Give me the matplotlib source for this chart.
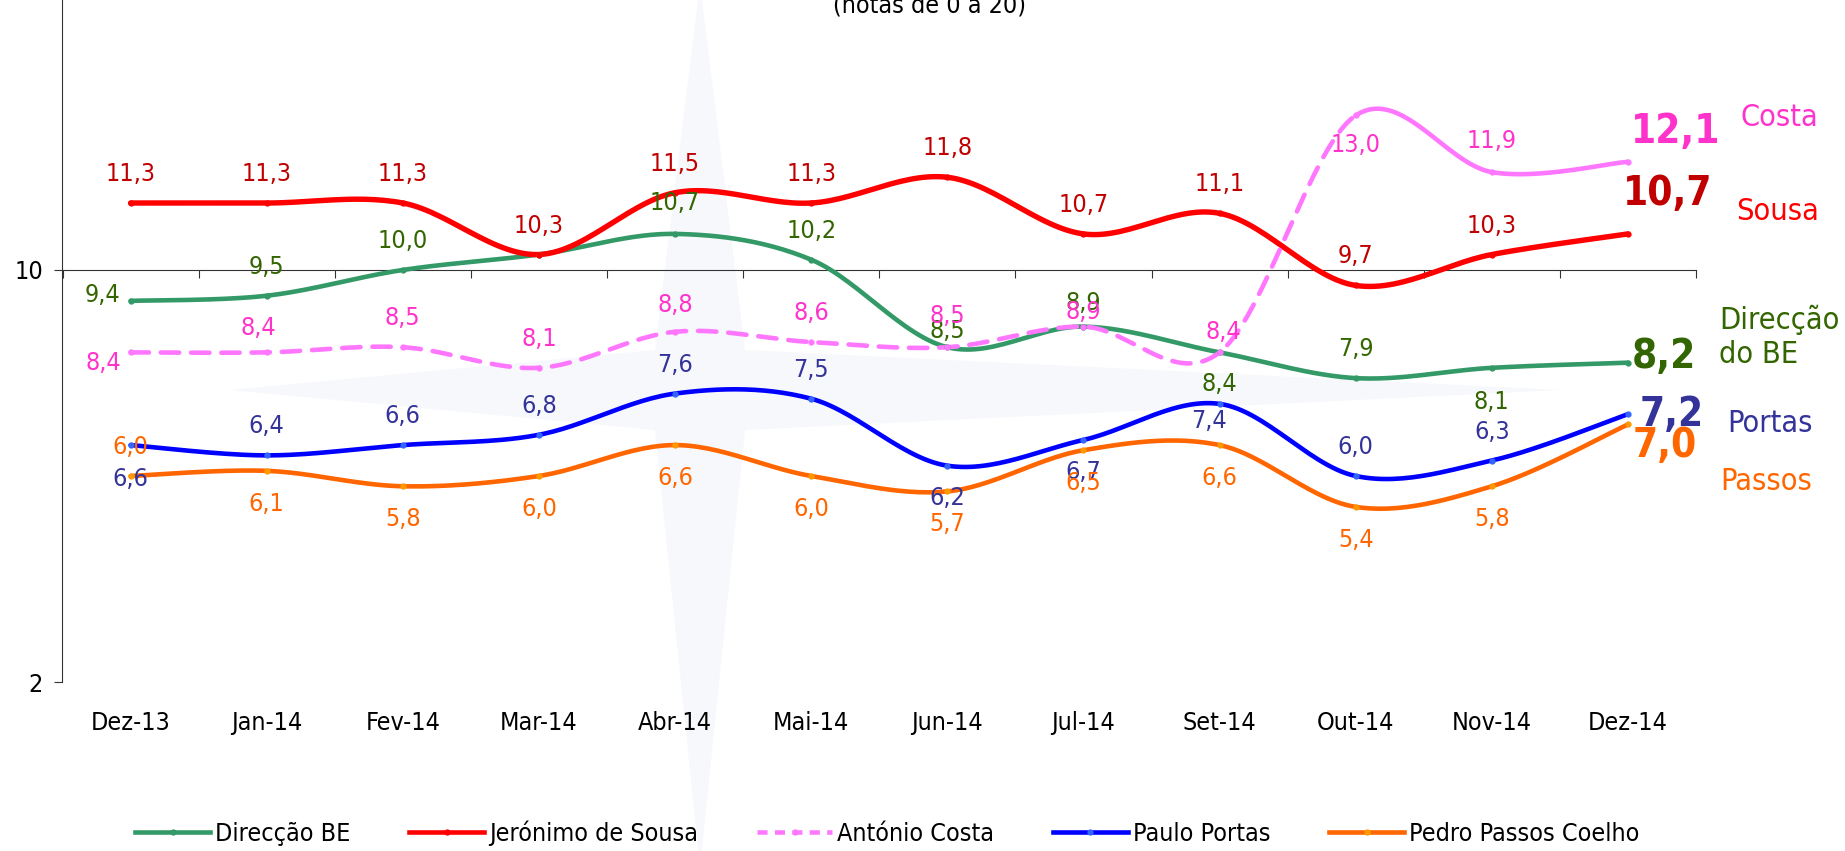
import numpy as np
import matplotlib
matplotlib.use("Agg")
import matplotlib.pyplot as plt
from matplotlib.patches import Polygon
from matplotlib.lines import Line2D

plt.rcParams['font.family'] = ['DejaVu Sans']
plt.rcParams['font.stretch'] = 'condensed'

# dados (notas de 0 a 20)
meses = ["Dez-13", "Jan-14", "Fev-14", "Mar-14", "Abr-14", "Mai-14",
         "Jun-14", "Jul-14", "Set-14", "Out-14", "Nov-14", "Dez-14"]
direccao_be = [9.4, 9.5, 10.0, 10.3, 10.7, 10.2, 8.5, 8.9, 8.4, 7.9, 8.1, 8.2]
jeronimo = [11.3, 11.3, 11.3, 10.3, 11.5, 11.3, 11.8, 10.7, 11.1, 9.7, 10.3, 10.7]
costa = [8.4, 8.4, 8.5, 8.1, 8.8, 8.6, 8.5, 8.9, 8.4, 13.0, 11.9, 12.1]
portas = [6.6, 6.4, 6.6, 6.8, 7.6, 7.5, 6.2, 6.7, 7.4, 6.0, 6.3, 7.2]
passos = [6.0, 6.1, 5.8, 6.0, 6.6, 6.0, 5.7, 6.5, 6.6, 5.4, 5.8, 7.0]

# posicao dos rotulos (pixels, relativo ao ponto)
up, dn = (0, 29), (0, -33)
off_be = [(-28, 6), up, up, None, (0, 31), up, (0, 16), (0, 24), (0, -32), up, (0, -34)]
off_je = [up] * 11
off_co = [(-27, -11), (-8, 24), up, up, (0, 27), up, (0, 31), (0, 15), (4, 20), (0, -30), (0, 31)]
off_po = [(0, -34), up, up, up, up, up, (0, -32), (0, -32), (-11, -17), up, up]
off_pa = [up] + [dn] * 10

series = [
    # nome, dados, cor linha, cor marcador, cor texto, offsets, offset final
    ("Direcção BE", direccao_be, "#339966", "#339966", "#336600", off_be, (36, 6)),
    ("Jerónimo de Sousa", jeronimo, "#FF0000", "#FF0000", "#C00000", off_je, (40, 40)),
    ("António Costa", costa, "#FF77FF", "#FF77FF", "#FF33CC", off_co, (48, 30)),
    ("Paulo Portas", portas, "#0000FF", "#3366FF", "#333399", off_po, (44, -1)),
    ("Pedro Passos Coelho", passos, "#FF6600", "#FF9900", "#FF6600", off_pa, (37, -22)),
]

W, H = 1845, 851
fig = plt.figure(figsize=(W / 100, H / 100), dpi=100)

# marca de agua (rosa-dos-ventos) muito clara
cx, cy = 700 / W, 1 - 390 / H
hw = 45 / W
hh = 40 / H
star = Polygon([(cx, 1.02), (cx + hw, cy + hh), (1560 / W, cy), (cx + hw, cy - hh),
                (cx, -0.02), (cx - hw, cy - hh), (230 / W, cy), (cx - hw, cy + hh)],
               closed=True, transform=fig.transFigure, facecolor="#F6F8FC",
               edgecolor="none", zorder=-5)
fig.add_artist(star)

ax = fig.add_axes([62.5 / W, (H - 682) / H, (1696 - 62.5) / W, 1.0894])
ax.set_facecolor("none")
ax.set_zorder(1)
ax.set_xlim(-0.5, 11.5)
ax.set_ylim(2, 20)


def suave(y, n=30):
    # curva suavizada tipo Excel (Catmull-Rom / Bezier)
    x = np.arange(len(y), dtype=float)
    p = np.column_stack([x, np.asarray(y, dtype=float)])
    pts = []
    for i in range(len(p) - 1):
        p0 = p[i - 1] if i > 0 else p[i]
        p3 = p[i + 2] if i + 2 < len(p) else p[i + 1]
        b0, b3 = p[i], p[i + 1]
        b1 = b0 + (b3 - p0) / 6
        b2 = b3 - (p3 - b0) / 6
        t = np.linspace(0, 1, n)[:, None]
        seg = ((1 - t) ** 3) * b0 + 3 * ((1 - t) ** 2) * t * b1 + 3 * (1 - t) * t ** 2 * b2 + t ** 3 * b3
        pts.append(seg if i == 0 else seg[1:])
    return np.vstack(pts)


lw = 3.3
fs = 18
handles = []
for nome, vals, cor, cor_m, cor_t, offs, off_fim in series:
    curva = suave(vals)
    if nome == "António Costa":
        k = 9 * 30 - 9 + 1  # ate Out-14 tracejado
        ax.plot(curva[:k, 0], curva[:k, 1], color=cor, lw=lw, ls=(0, (4, 2.6)),
                solid_capstyle="round", dash_capstyle="round", zorder=3)
        ax.plot(curva[k - 1:, 0], curva[k - 1:, 1], color=cor, lw=lw,
                solid_capstyle="round", zorder=3)
        ls = (0, (2.2, 1.6))
    else:
        ax.plot(curva[:, 0], curva[:, 1], color=cor, lw=lw + (0.6 if cor == "#FF0000" else 0),
                solid_capstyle="round", zorder=3)
        ls = "-"
    ax.plot(range(len(vals)), vals, ls="none", marker="o", ms=3.5, mfc=cor_m,
            mec=cor_m, zorder=4)
    handles.append(Line2D([0], [0], color=cor, lw=lw, ls=ls, marker="o", ms=3.5,
                          mfc=cor_m, mec=cor_m))
    for i, v in enumerate(vals[:-1]):
        if offs[i] is None:
            continue
        ax.annotate(f"{v:.1f}".replace(".", ","), (i, v), xytext=offs[i],
                    textcoords="offset pixels", ha="center", va="center",
                    fontsize=fs, color=cor_t, zorder=5)
    ax.annotate(f"{vals[-1]:.1f}".replace(".", ","), (len(vals) - 1, vals[-1]),
                xytext=off_fim, textcoords="offset pixels", ha="center", va="center",
                fontsize=29, fontweight="bold", color=cor_t, zorder=5)

# eixos
for s in ["top", "right"]:
    ax.spines[s].set_visible(False)
ax.spines["bottom"].set_position(("data", 10))
ax.spines["bottom"].set_color("#333333")
ax.spines["left"].set_color("#333333")
ax.set_xticks(np.arange(-0.5, 12, 1.0))
ax.set_xticklabels([])
ax.tick_params(axis="x", direction="out", length=6, color="#333333")
ax.set_yticks([2, 10])
ax.set_yticklabels(["2", "10"], fontsize=fs)
ax.tick_params(axis="y", direction="out", length=6, color="#333333", pad=8)

sec = ax.secondary_xaxis(0)
sec.set_xticks(range(len(meses)), meses, fontsize=fs)
sec.tick_params(length=0, pad=21)
sec.spines["bottom"].set_visible(False)

# nomes a direita
nomes_dir = [("Costa", 1740, 117, "#FF33CC"), ("Sousa", 1736, 212, "#FF0000"),
             ("Direcção\ndo BE", 1719, 337, "#336600"), ("Portas", 1727, 423, "#333399"),
             ("Passos", 1720, 482, "#FF6600")]
for txt, px, py, c in nomes_dir:
    fig.text(px / W, 1 - py / H, txt, color=c, fontsize=22, ha="left", va="center",
             linespacing=1.2)

fig.text(930 / W, 1 - 6 / H, "(notas de 0 a 20)", ha="center", va="center", fontsize=fs)

fig.legend(handles, [s[0] for s in series], loc="center", bbox_to_anchor=(0.481, 1 - 833 / H),
           ncol=5, frameon=False, fontsize=fs, handlelength=3.0, handletextpad=0.2,
           columnspacing=2.35)

fig.savefig("out.png", dpi=100)
